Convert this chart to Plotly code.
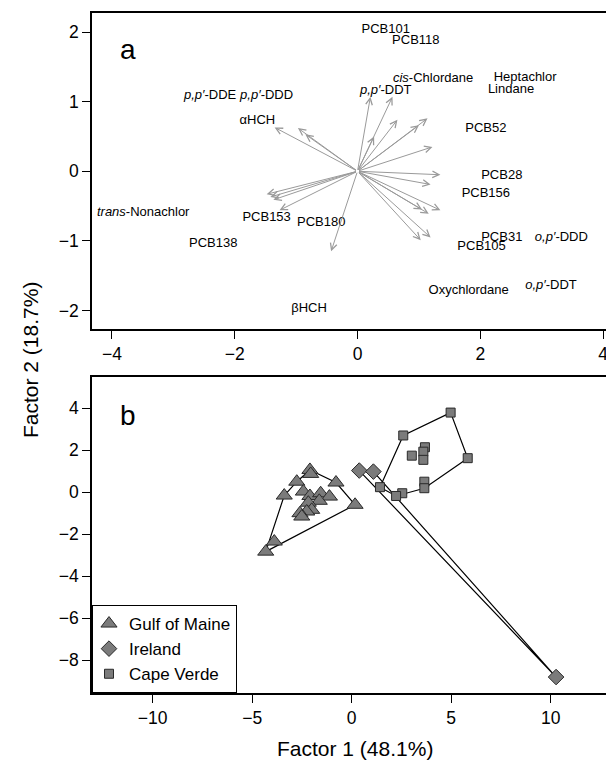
import plotly.graph_objects as go

# ---------------- Panel a: loadings ----------------
arrow_x = [-1.35, -0.97, -0.85,
           0.21, 0.57, 0.27, 0.65, 1.14, 1.00, 1.22,
           1.35, 1.19, 1.35, 1.16, 1.05, 1.19, 1.03,
           -1.48, -1.42, -1.37, -1.27, -0.43]
arrow_y = [0.63, 0.62, 0.53,
           1.07, 1.07, 0.50, 0.74, 0.76, 0.66, 0.35,
           -0.05, -0.19, -0.56, -0.61, -0.55, -0.95, -0.99,
           -0.33, -0.37, -0.41, -0.56, -1.15]

label_text = ["PCB101", "PCB118", "<i>cis</i>-Chlordane", "Heptachlor", "Lindane",
              "<i>p,p′</i>-DDT", "PCB52", "<i>p,p′</i>-DDE", "<i>p,p′</i>-DDD", "αHCH",
              "<i>trans</i>-Nonachlor", "PCB153", "PCB180", "PCB138", "βHCH",
              "PCB28", "PCB156", "PCB31", "PCB105", "<i>o,p′</i>-DDD",
              "<i>o,p′</i>-DDT", "Oxychlordane"]
label_x = [0.46, 0.95, 1.23, 2.73, 2.50,
           0.46, 2.09, -2.40, -1.48, -1.63,
           -3.49, -1.48, -0.59, -2.35, -0.79,
           2.35, 2.09, 2.35, 2.02, 3.32,
           3.15, 1.81]
label_y = [2.03, 1.87, 1.33, 1.35, 1.17,
           1.15, 0.61, 1.09, 1.09, 0.72,
           -0.59, -0.67, -0.74, -1.04, -1.98,
           -0.07, -0.33, -0.96, -1.09, -0.95,
           -1.64, -1.72]

# ---------------- Panel b: scores ----------------
gom_x = [-2.10, -2.06, -2.76, -0.79, -3.39, -2.43, -2.10, -1.56, -1.12,
         -1.63, -2.18, -2.01, -2.26, -2.60, -2.51, 0.17, -3.89, -4.32]
gom_y = [1.06, 0.87, 0.50, 0.46, -0.16, 0.03, -0.18, -0.05, -0.21,
         -0.41, -0.50, -0.84, -0.92, -1.00, -1.16, -0.60, -2.35, -2.83]

irl_x = [0.38, 1.09, 10.27]
irl_y = [1.03, 0.98, -8.80]

cv_x = [4.97, 2.59, 5.83, 3.02, 3.68, 3.60, 3.60, 3.65, 3.65, 2.54, 2.23, 1.42]
cv_y = [3.79, 2.70, 1.62, 1.74, 2.14, 1.93, 1.54, 0.50, 0.19, -0.05, -0.18, 0.24]

groups = ["Gulf of Maine", "Ireland", "Cape Verde"]


def convex_hull(xs, ys):
    pts = sorted(set(zip(xs, ys)))
    if len(pts) <= 2:
        return pts

    def cross(o, a, b):
        return (a[0] - o[0]) * (b[1] - o[1]) - (a[1] - o[1]) * (b[0] - o[0])

    lower = []
    for p in pts:
        while len(lower) >= 2 and cross(lower[-2], lower[-1], p) <= 0:
            lower.pop()
        lower.append(p)
    upper = []
    for p in reversed(pts):
        while len(upper) >= 2 and cross(upper[-2], upper[-1], p) <= 0:
            upper.pop()
        upper.append(p)
    hull = lower[:-1] + upper[:-1]
    return hull + [hull[0]]


FONT = "Liberation Sans, Arial, Helvetica, sans-serif"
fill = "#7b7b7b"
edge = "#2a2a2a"

# page body has an 8px margin, so the figure is 8px smaller than the window
W, H = 606, 753
L = 84
PW = W - L

fig = go.Figure()

fig.add_trace(go.Scatter(x=label_x, y=label_y, mode="text", text=label_text,
                         textfont=dict(family=FONT, size=13, color="black"),
                         xaxis="x", yaxis="y", showlegend=False, hoverinfo="skip",
                         cliponaxis=False))

for gx, gy in [(gom_x, gom_y), (irl_x, irl_y), (cv_x, cv_y)]:
    h = convex_hull(gx, gy)
    fig.add_trace(go.Scatter(x=[p[0] for p in h], y=[p[1] for p in h], mode="lines",
                             line=dict(color="black", width=1.2),
                             xaxis="x2", yaxis="y2", showlegend=False, hoverinfo="skip"))

fig.add_trace(go.Scatter(x=gom_x, y=gom_y, mode="markers", name=groups[0],
                         marker=dict(symbol="triangle-up", size=14, color=fill,
                                     line=dict(color=edge, width=1)),
                         xaxis="x2", yaxis="y2"))
fig.add_trace(go.Scatter(x=irl_x, y=irl_y, mode="markers", name=groups[1],
                         marker=dict(symbol="diamond", size=12, color=fill,
                                     line=dict(color=edge, width=1)),
                         xaxis="x2", yaxis="y2"))
fig.add_trace(go.Scatter(x=cv_x, y=cv_y, mode="markers", name=groups[2],
                         marker=dict(symbol="square", size=9, color=fill,
                                     line=dict(color=edge, width=1)),
                         xaxis="x2", yaxis="y2"))

annotations = []
for ax_, ay_ in zip(arrow_x, arrow_y):
    annotations.append(dict(x=ax_, y=ay_, ax=0, ay=0, xref="x", yref="y",
                            axref="x", ayref="y", text="", showarrow=True,
                            arrowhead=5, arrowsize=1.3, arrowwidth=1,
                            arrowcolor="#9a9a9a"))

annotations += [
    dict(text="a", x=0.05, y=0.938, xref="x domain", yref="y domain",
         showarrow=False, font=dict(family=FONT, size=28, color="black")),
    dict(text="b", x=0.05, y=0.933, xref="x2 domain", yref="y2 domain",
         showarrow=False, font=dict(family=FONT, size=28, color="black")),
    dict(text="Factor 2 (18.7%)", x=(22 - L) / PW, y=(H - 352) / H, xref="paper", yref="paper",
         textangle=-90, showarrow=False, xanchor="center", yanchor="middle",
         font=dict(family=FONT, size=21, color="black")),
    dict(text="Factor 1 (48.1%)", x=(347 - L) / PW, y=(H - 740) / H,
         xref="paper", yref="paper", showarrow=False, xanchor="center", yanchor="middle",
         font=dict(family=FONT, size=21, color="black")),
]

axis_common = dict(showgrid=False, zeroline=False, showline=True, linecolor="black",
                   linewidth=1.5, ticks="outside", ticklen=8, tickwidth=1.2,
                   tickcolor="black", automargin=False,
                   tickfont=dict(family=FONT, size=17.5, color="black"))

fig.update_layout(
    width=W, height=H,
    margin=dict(l=L, r=0, t=0, b=0, autoexpand=False),
    paper_bgcolor="white", plot_bgcolor="white",
    xaxis=dict(domain=[0, 1], anchor="y", range=[-4.324, 4.177],
               tickvals=[-4, -2, 0, 2, 4], mirror=True, **axis_common),
    yaxis=dict(domain=[0.5733, 0.9940], anchor="x", range=[-2.27, 2.28],
               tickvals=[-2, -1, 0, 1, 2], **axis_common),
    xaxis2=dict(domain=[0, 1], anchor="y2", range=[-13.05, 13.18],
                tickvals=[-10, -5, 0, 5, 10], mirror=True, **axis_common),
    yaxis2=dict(domain=[0.0903, 0.5104], anchor="x2", range=[-9.56, 5.50],
                tickvals=[-8, -6, -4, -2, 0, 2, 4], **axis_common),
    legend=dict(x=0, y=0.0903, xref="paper", yref="paper", xanchor="left", yanchor="bottom",
                bordercolor="black", borderwidth=1, bgcolor="white",
                font=dict(family=FONT, size=17, color="black"),
                itemwidth=30, tracegroupgap=0, indentation=-4,
                entrywidth=130),
    annotations=annotations,
    showlegend=True,
)

fig.write_html("out.html")
